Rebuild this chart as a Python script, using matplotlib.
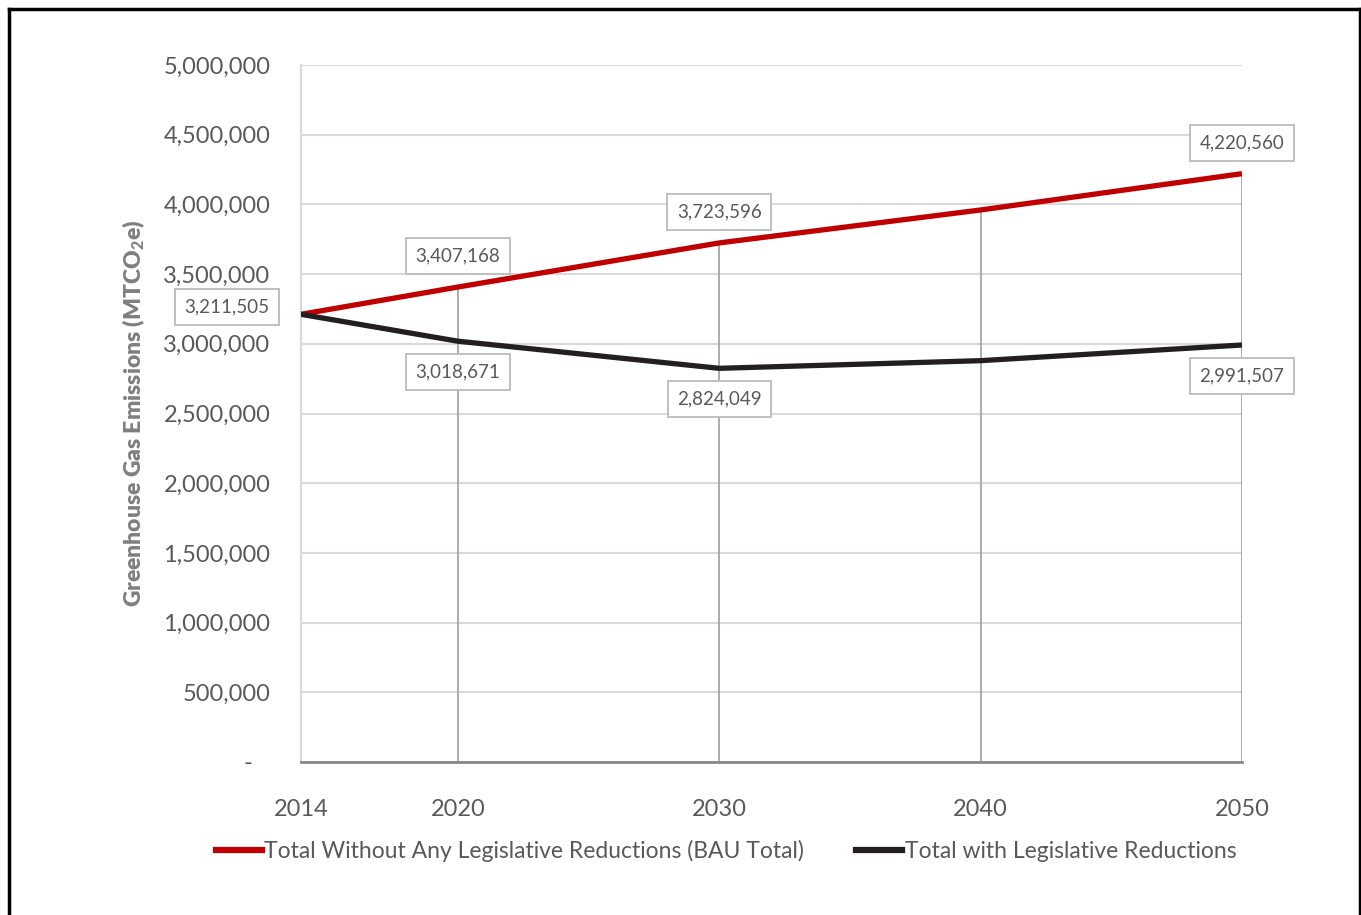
import matplotlib
matplotlib.use("Agg")
import matplotlib.pyplot as plt
from matplotlib.lines import Line2D
from matplotlib.ticker import FuncFormatter

years = [2014, 2020, 2030, 2040, 2050]
bau_total = [3211505, 3407168, 3723596, 3960000, 4220560]
with_reductions = [3211505, 3018671, 2824049, 2879000, 2991507]
series_names = ["Total Without Any Legislative Reductions (BAU Total)",
                "Total with Legislative Reductions"]
labelled_years = [2014, 2020, 2030, 2050]
y_ticks = [0, 500000, 1000000, 1500000, 2000000, 2500000, 3000000,
           3500000, 4000000, 4500000, 5000000]

plt.rcParams['font.family'] = ['Lato', 'DejaVu Sans']
plt.rcParams['mathtext.fontset'] = 'custom'
plt.rcParams['mathtext.rm'] = 'Lato'
plt.rcParams['mathtext.bf'] = 'Lato:black'

W, H = 1361, 915
fig = plt.figure(figsize=(W / 100, H / 100), dpi=100)
ax = fig.add_axes([301 / W, 1 - 762 / H, (1242 - 301) / W, (762 - 65) / H])

RED = '#c00000'
BLACK = '#231f20'
GRID = '#d9d9d9'
TXT = '#595959'

# drop lines
tops = [max(a, b) for a, b in zip(bau_total, with_reductions)]
ax.vlines(years, 0, tops, colors='#a6a6a6', lw=1.3, zorder=2)

ax.plot(years, bau_total, color=RED, lw=3.8, solid_joinstyle='round',
        solid_capstyle='butt', zorder=4)
ax.plot(years, with_reductions, color=BLACK, lw=3.8, solid_joinstyle='round',
        solid_capstyle='butt', zorder=4)

ax.set_xlim(2014, 2050)
ax.set_ylim(0, 5000000)
ax.set_yticks(y_ticks)
ax.yaxis.set_major_formatter(FuncFormatter(lambda v, p: '-   ' if v == 0 else f'{int(v):,}'))
ax.set_xticks(years)
ax.set_xticklabels([str(y) for y in years])
ax.grid(axis='y', color=GRID, lw=1.5, zorder=0)
ax.set_axisbelow(True)
ax.tick_params(axis='both', length=0, labelsize=17, labelcolor=TXT)
ax.tick_params(axis='y', pad=22)
ax.tick_params(axis='x', pad=27)
for s in ['top', 'right']:
    ax.spines[s].set_visible(False)
ax.spines['left'].set_color(GRID)
ax.spines['left'].set_linewidth(1.5)
ax.spines['bottom'].set_color('#898989')
ax.spines['bottom'].set_linewidth(2)
ax.spines['bottom'].set_zorder(5)

ax.set_ylabel(r'Greenhouse Gas Emissions (MTCO$_\mathbf{2}$e)', fontsize=16.5,
              fontweight='heavy', color='#7f7f7f', labelpad=12)

# data labels
box = dict(boxstyle='square,pad=0.5', fc='white', ec='#bfbfbf', lw=1.4)
for yr in labelled_years:
    i = years.index(yr)
    if yr == 2014:
        ax.annotate(f'{bau_total[i]:,}', (yr, bau_total[i]), xytext=(-74, 7),
                    textcoords='offset pixels', ha='center', va='center',
                    fontsize=13.5, color=TXT, bbox=box, zorder=6)
        continue
    ax.annotate(f'{bau_total[i]:,}', (yr, bau_total[i]), xytext=(0, 31),
                textcoords='offset pixels', ha='center', va='center',
                fontsize=13.5, color=TXT, bbox=box, zorder=6)
    ax.annotate(f'{with_reductions[i]:,}', (yr, with_reductions[i]), xytext=(0, -31),
                textcoords='offset pixels', ha='center', va='center',
                fontsize=13.5, color=TXT, bbox=box, zorder=6)

handles = [Line2D([], [], color=RED, lw=4.5), Line2D([], [], color=BLACK, lw=4.5)]
fig.legend(handles, series_names, loc='center', bbox_to_anchor=(726 / W, 1 - 851 / H),
           ncol=2, frameon=False, fontsize=16.5, labelcolor=TXT, handlelength=2.0,
           handletextpad=0.1, columnspacing=2.3)

# outer frame
fr = dict(color='black', lw=2.5, transform=fig.transFigure, clip_on=False)
fig.add_artist(Line2D([8.5 / W, 8.5 / W], [0, 1 - 8.5 / H], **fr))
fig.add_artist(Line2D([8.5 / W, 1359.5 / W], [1 - 8.5 / H, 1 - 8.5 / H], **fr))
fig.add_artist(Line2D([1359.5 / W, 1359.5 / W], [0, 1 - 8.5 / H], **fr))

fig.savefig('out.png', dpi=100)
